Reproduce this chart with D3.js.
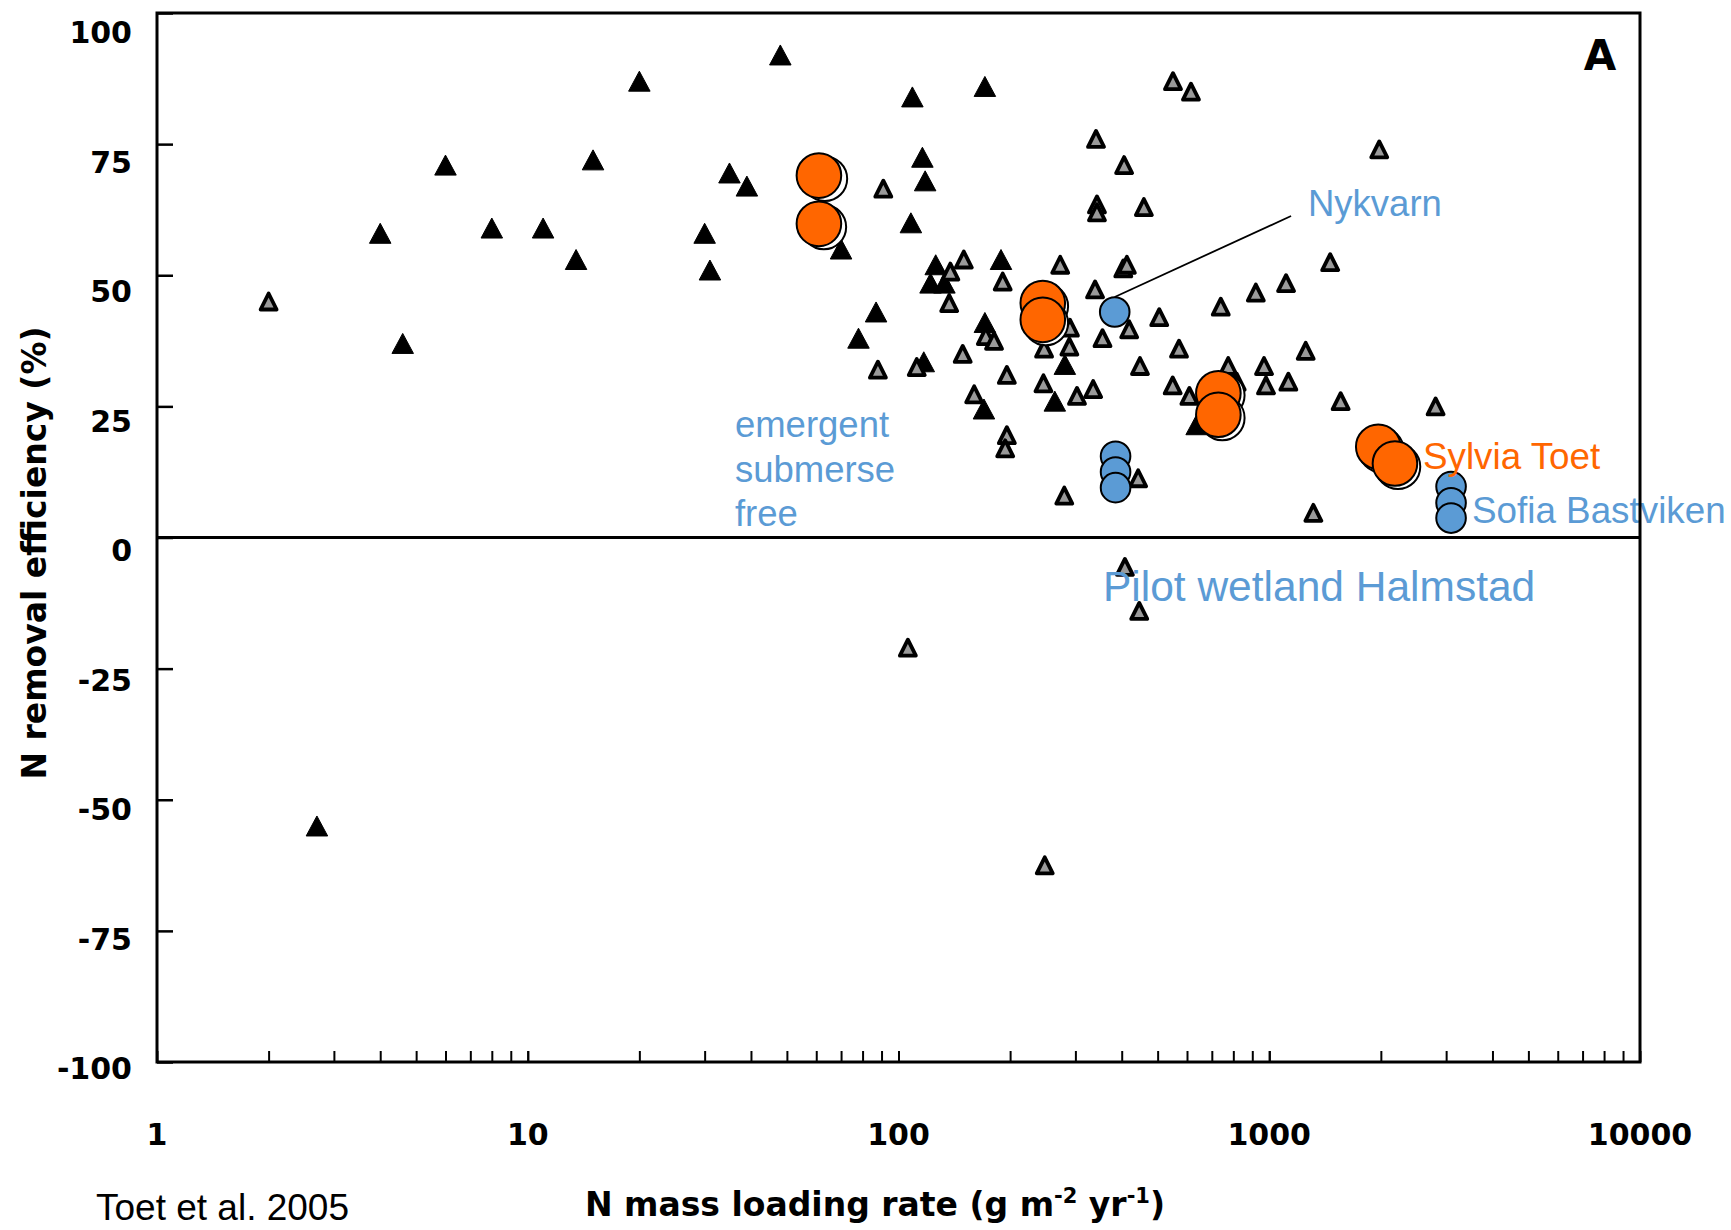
<!DOCTYPE html>
<html>
<head>
<meta charset="utf-8">
<script src="https://cdn.jsdelivr.net/npm/d3@7"></script>
<style>
  body { margin: 0; background: #fff; }
  svg { display: block; }
</style>
</head>
<body>
<div class="ScatterChart"></div>
<script>
/* Data */
const xTickValues = [1, 10, 100, 1000, 10000];
const yTickValues = [-100, -75, -50, -25, 0, 25, 50, 75, 100];

// literature wetlands, black filled triangles  [N loading, removal %]
const blackTriangles = [
    [48, 92], [20, 87], [6, 71], [15, 72], [4, 58], [8, 59], [11, 59], [13.5, 53],
    [4.6, 37], [2.7, -55], [30, 58], [31, 51], [35, 69.5], [39, 67], [109, 84],
    [171, 86], [116, 72.5], [118, 68], [108, 60], [70, 55], [87, 43], [78, 38],
    [126, 52], [122, 48.5], [133, 48.5], [189, 53], [117, 33.5], [171, 41],
    [170, 24.5], [281, 33], [264, 26], [637, 21.5]
];

// literature wetlands, grey triangles
const greyTriangles = [
    [2.0, 45], [550, 87], [615, 85], [341, 76], [406, 71], [343, 63.5], [343, 62],
    [459, 63], [91, 66.5], [1980, 74], [1460, 52.5], [1110, 48.5], [920, 46.7],
    [740, 44], [505, 42], [419, 39.7], [571, 36], [1254, 35.6], [448, 32.7],
    [775, 32.7], [968, 32.7], [549, 29], [609, 27], [980, 29], [1126, 29.7],
    [817, 29.7], [1558, 26], [2810, 25], [1315, 4.7], [443, 11.3], [280, 8],
    [408, -5.6], [446, -14], [106, -21], [248, -62.5], [273, 52], [339, 47.3],
    [404, 51.3], [413, 52], [355, 38], [290, 40], [289, 36.4], [247, 36],
    [246, 29.4], [303, 27], [335, 28.3], [196, 31], [160, 27.3], [196, 19.5],
    [194, 17], [149, 35], [88, 32], [112, 32.5], [138, 50.7], [150, 53],
    [137, 44.7], [191, 48.8], [172, 38.4], [181, 37.5]
];

// Sylvia Toet wetlands (orange) and the repeated measurements behind them
const orangeShadow = [
    [63.3, 68.4], [62.9, 59.2], [249.6, 44.1], [249.6, 40.9], [747, 27.1], [747, 22.8], [2005, 16.7], [2224, 13.5]
];
const orangeCircles = [
    [61, 69], [61, 59.8], [245, 44.7], [245, 41.5], [729, 27.5], [729, 23.4], [1968, 17.3], [2183, 14.1]
];

// Halmstad / Nykvarn / Bastviken (blue)
const blueCircles = [
    [383, 43], [385, 15.5], [385, 12.5], [385, 9.5], [3093, 9.7], [3093, 6.6], [3093, 3.7]
];
const nykvarnPoint = [383, 43];
const nykvarnLeaderEnd = [1145, 61.3];

// annotation anchors (data coordinates: x, y of baseline start)
const annotations = [
    { text: "Nykvarn", at: [1272, 61.3], color: "#5B9BD5", size: 36.5 },
    { text: "emergent", at: [36.2, 19.2], color: "#5B9BD5", size: 36.5 },
    { text: "submerse", at: [36.2, 10.6], color: "#5B9BD5", size: 36.5 },
    { text: "free", at: [36.2, 2.2], color: "#5B9BD5", size: 36.5 },
    { text: "Sylvia Toet", at: [2598, 13.1], color: "#FF6600", size: 36.8 },
    { text: "Sofia Bastviken", at: [3523, 2.8], color: "#5B9BD5", size: 36.8 },
    { text: "Pilot wetland Halmstad", at: [356, -12.2], color: "#5B9BD5", size: 42.5 }
];

/* Dimensions */
const width = 1731;
const height = 1230;
const plot = { left: 157, right: 1640, top: 13, bottom: 1062 };

/* Scales */
const xScale = d3.scaleLog()
    .domain([1, 10000])
    .range([plot.left, plot.right]);

const yScale = d3.scaleLinear()
    .domain([-100, 100])
    .range([plot.bottom, plot.top]);

// tick labels sit a little lower than their ticks in the original
const yLabelScale = d3.scaleLinear()
    .domain([-100, 100])
    .range([1068, 32]);

/* SVG container */
const svg = d3.select(".ScatterChart")
    .append("svg")
    .attr("width", width)
    .attr("height", height);

const boldFont = "'DejaVu Sans', Verdana, sans-serif";
const plainFont = "'Liberation Sans', Arial, sans-serif";

// triangle path centred on its bounding box
function triPath(w, h) {
    return `M0,${-h / 2}L${w / 2},${h / 2}L${-w / 2},${h / 2}Z`;
}

/* Axes */
// minor + major ticks on the bottom, pointing inward
const minorTicks = [];
[1, 10, 100, 1000].forEach(d => {
    for (let k = 1; k <= 10; k++) minorTicks.push(d * k);
});
svg.append("g")
    .attr("transform", `translate(0,${plot.bottom})`)
    .call(d3.axisTop(xScale).tickValues(minorTicks).tickSize(11).tickFormat(""))
    .call(g => g.select(".domain").remove())
    .call(g => g.selectAll("line").attr("stroke", "#000").attr("stroke-width", 2));

svg.append("g")
    .attr("transform", `translate(${plot.left},0)`)
    .call(d3.axisRight(yScale).tickValues(yTickValues).tickSize(16).tickFormat(""))
    .call(g => g.select(".domain").remove())
    .call(g => g.selectAll("line").attr("stroke", "#000").attr("stroke-width", 2.5));

// tick labels
svg.append("g")
    .selectAll("text")
    .data(xTickValues)
    .join("text")
    .attr("x", d => xScale(d))
    .attr("y", 1145)
    .attr("text-anchor", "middle")
    .style("font-family", boldFont)
    .style("font-weight", "bold")
    .style("font-size", "30px")
    .text(d => d);

svg.append("g")
    .selectAll("text")
    .data(yTickValues)
    .join("text")
    .attr("x", 132)
    .attr("y", d => yLabelScale(d) + 11)
    .attr("text-anchor", "end")
    .style("font-family", boldFont)
    .style("font-weight", "bold")
    .style("font-size", "30px")
    .text(d => d);

// zero line
svg.append("line")
    .attr("x1", xScale(1))
    .attr("x2", xScale(10000))
    .attr("y1", yScale(0))
    .attr("y2", yScale(0))
    .attr("stroke", "#000")
    .attr("stroke-width", 3);

/* Marks */
svg.append("g")
    .selectAll("path")
    .data(blackTriangles)
    .join("path")
    .attr("d", triPath(21.5, 20))
    .attr("transform", d => `translate(${xScale(d[0])},${yScale(d[1])})`)
    .attr("fill", "#000")
    .attr("stroke", "#000")
    .attr("stroke-width", 1)
    .attr("stroke-linejoin", "round");

svg.append("g")
    .selectAll("path")
    .data(greyTriangles)
    .join("path")
    .attr("d", triPath(16, 16))
    .attr("transform", d => `translate(${xScale(d[0])},${yScale(d[1])})`)
    .attr("fill", "#9a9a9a")
    .attr("stroke", "#000")
    .attr("stroke-width", 3.8)
    .attr("stroke-linejoin", "round");

// leader line to Nykvarn
svg.append("line")
    .attr("x1", xScale(nykvarnPoint[0]))
    .attr("y1", yScale(nykvarnPoint[1]) - 15)
    .attr("x2", xScale(nykvarnLeaderEnd[0]))
    .attr("y2", yScale(nykvarnLeaderEnd[1]))
    .attr("stroke", "#000")
    .attr("stroke-width", 1.8);

svg.append("g")
    .selectAll("circle")
    .data(orangeShadow)
    .join("circle")
    .attr("cx", d => xScale(d[0]))
    .attr("cy", d => yScale(d[1]))
    .attr("r", 22.3)
    .attr("fill", "#fff")
    .attr("stroke", "#000")
    .attr("stroke-width", 2);

svg.append("g")
    .selectAll("circle")
    .data(orangeCircles)
    .join("circle")
    .attr("cx", d => xScale(d[0]))
    .attr("cy", d => yScale(d[1]))
    .attr("r", 22.3)
    .attr("fill", "#FF6600")
    .attr("stroke", "#000")
    .attr("stroke-width", 2);

svg.append("g")
    .selectAll("circle")
    .data(blueCircles)
    .join("circle")
    .attr("cx", d => xScale(d[0]))
    .attr("cy", d => yScale(d[1]))
    .attr("r", 14.8)
    .attr("fill", "#5B9BD5")
    .attr("stroke", "#000")
    .attr("stroke-width", 2);

// annotations
svg.append("g")
    .selectAll("text")
    .data(annotations)
    .join("text")
    .attr("x", d => xScale(d.at[0]))
    .attr("y", d => yScale(d.at[1]))
    .style("font-family", plainFont)
    .style("font-size", d => `${d.size}px`)
    .style("fill", d => d.color)
    .text(d => d.text);

// panel letter
svg.append("text")
    .attr("x", xScale(7800))
    .attr("y", yScale(89.1))
    .attr("text-anchor", "middle")
    .style("font-family", boldFont)
    .style("font-weight", "bold")
    .style("font-size", "42px")
    .text("A");

// frame
svg.append("rect")
    .attr("x", xScale(1))
    .attr("y", yScale(100))
    .attr("width", xScale(10000) - xScale(1))
    .attr("height", yScale(-100) - yScale(100))
    .attr("fill", "none")
    .attr("stroke", "#000")
    .attr("stroke-width", 3);

/* Titles */
svg.append("text")
    .attr("transform", `translate(46,553) rotate(-90)`)
    .attr("text-anchor", "middle")
    .style("font-family", boldFont)
    .style("font-weight", "bold")
    .style("font-size", "33px")
    .text("N removal efficiency (%)");

const xTitle = svg.append("text")
    .attr("x", 875)
    .attr("y", 1216)
    .attr("text-anchor", "middle")
    .style("font-family", boldFont)
    .style("font-weight", "bold")
    .style("font-size", "33px");
xTitle.append("tspan").text("N mass loading rate (g m");
xTitle.append("tspan").attr("dy", -13).style("font-size", "21px").text("-2");
xTitle.append("tspan").attr("dy", 13).text(" yr");
xTitle.append("tspan").attr("dy", -13).style("font-size", "21px").text("-1");
xTitle.append("tspan").attr("dy", 13).text(")");

svg.append("text")
    .attr("x", 96)
    .attr("y", 1220)
    .style("font-family", plainFont)
    .style("font-size", "37px")
    .text("Toet et al. 2005");
</script>
</body>
</html>
